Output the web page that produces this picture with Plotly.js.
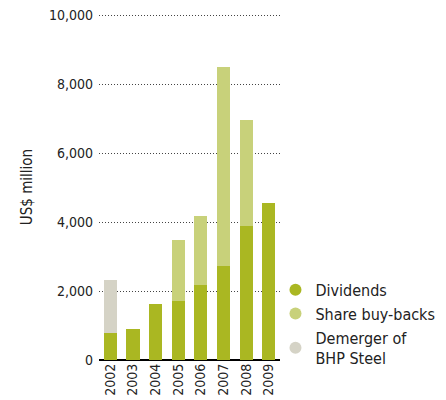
<!DOCTYPE html>
<html><head><meta charset="utf-8">
<script src="https://cdn.plot.ly/plotly-3.0.1.min.js"></script>
<style>body{margin:0;background:#fff}#c{width:446px;height:400px}</style>
</head><body><div id="c"></div>
<script>
var years = ["2002","2003","2004","2005","2006","2007","2008","2009"];
var dividends = [790, 890, 1620, 1705, 2165, 2715, 3900, 4565];
var buybacks = [0, 0, 0, 1765, 2000, 5785, 3065, 0];
var demerger = [1520, 0, 0, 0, 0, 0, 0, 0];
var yTicks = [0, 2000, 4000, 6000, 8000, 10000];
var yTickText = ["0", "2,000", "4,000", "6,000", "8,000", "10,000"];
var names = ["Dividends", "Share buy-backs", "Demerger of<br>BHP Steel"];
var colors = ["rgb(170,183,34)", "rgb(200,209,122)", "rgb(213,211,198)"];

var FONT = "'DejaVu Sans Condensed', 'Noto Sans', sans-serif";
var series = [dividends, buybacks, demerger];
var data = [];
series.forEach(function(s, i){
  data.push({type:"bar", x:years, y:s, marker:{color:colors[i]}, showlegend:false, hoverinfo:"none"});
});
series.forEach(function(s, i){
  data.push({type:"scatter", mode:"markers", x:[null], y:[null], name:names[i],
    marker:{color:colors[i], size:13, symbol:"circle"}});
});

var layout = {
  width:446, height:400,
  margin:{l:99, r:166, t:14, b:40, pad:0, autoexpand:false},
  barmode:"stack", bargap:0.42,
  paper_bgcolor:"#fff", plot_bgcolor:"#fff",
  font:{family:FONT, color:"#222", size:14},
  xaxis:{type:"category", tickangle:-90, showgrid:false, zeroline:false, ticks:"",
    showline:false, tickfont:{size:14, family:FONT, color:"#222"}},
  yaxis:{range:[0,10040], tickvals:yTicks, ticktext:yTickText, showgrid:true,
    gridcolor:"#444", griddash:"1px,2px", gridwidth:1, zeroline:true, zerolinecolor:"#000",
    zerolinewidth:1.5, ticks:"", ticklabelstandoff:5,
    tickfont:{size:14, family:FONT, color:"#222"},
    title:{text:"US$ million", font:{size:15, family:FONT, color:"#222"}, standoff:12}},
  legend:{x:0.975, xanchor:"left", y:0.252, yanchor:"top", traceorder:"normal",
    font:{size:16, family:FONT, color:"#222"}, itemsizing:"constant", tracegroupgap:0,
    bgcolor:"rgba(0,0,0,0)", itemwidth:30}
};
Plotly.newPlot("c", data, layout, {displayModeBar:false, staticPlot:true});
</script></body></html>
